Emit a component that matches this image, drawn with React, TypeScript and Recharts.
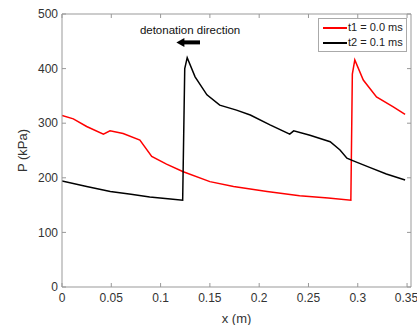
import { LineChart, Line, XAxis, YAxis, ReferenceLine, ReferenceDot } from "recharts";

// t1 = 0.0 ms (red)
const xT1 = [0, 0.0115, 0.025, 0.042, 0.0487, 0.062, 0.079, 0.091, 0.106, 0.123, 0.15, 0.174, 0.208, 0.241, 0.27, 0.293, 0.2945, 0.297, 0.3056, 0.319, 0.336, 0.348];
const pT1 = [314, 308, 294, 280, 286, 281, 269, 239, 225, 211, 193, 184, 175, 167, 163, 159, 390, 416, 379, 348, 330, 316];

// t2 = 0.1 ms (black)
const xT2 = [0, 0.025, 0.049, 0.07, 0.089, 0.11, 0.1224, 0.1245, 0.127, 0.135, 0.147, 0.16, 0.177, 0.191, 0.211, 0.231, 0.235, 0.2515, 0.272, 0.282, 0.289, 0.2955, 0.312, 0.329, 0.348];
const pT2 = [194, 184, 175, 170, 165, 161, 159, 400, 420, 385, 352, 333, 324, 315, 297, 280, 286, 278, 266, 251, 236, 231, 219, 207, 196];

const xTicks = [0, 0.05, 0.1, 0.15, 0.2, 0.25, 0.3, 0.35];
const yTicks = [0, 100, 200, 300, 400, 500];
const xMax = 0.354;
const yMax = 500;
const seriesNames = ["t1 = 0.0 ms", "t2 = 0.1 ms"];
const seriesColors = ["#ff0000", "#000000"];

const dataT1 = xT1.map((x, i) => ({ x, p: pT1[i] }));
const dataT2 = xT2.map((x, i) => ({ x, p: pT2[i] }));

const font = "Liberation Sans, Arial, sans-serif";
const frame = "#999999";

function LegendBox() {
    return (
        <div style={{ position: "absolute", top: 18, left: 318, border: "1px solid #aaa", background: "#fff", padding: "1px 3px 1px 4px", fontFamily: font, fontSize: 11, color: "#222", lineHeight: "15px" }}>
            {seriesNames.map((n, i) => (
                <div key={n} style={{ display: "flex", alignItems: "center", height: 15 }}>
                    <span style={{ display: "inline-block", width: 24, height: 2, background: seriesColors[i], marginRight: 1 }} />
                    <span>{n}</span>
                </div>
            ))}
        </div>
    );
}

function Arrow(props: any) {
    const { x1, y1, x2, y2 } = props;
    return (
        <g>
            <line x1={x1} y1={y1} x2={x2 + 7} y2={y2} stroke="#000" strokeWidth={4} />
            <polygon points={`${x2},${y2} ${x2 + 8},${y2 - 4.5} ${x2 + 8},${y2 + 4.5}`} fill="#000" />
        </g>
    );
}

// short inward tick on the top / right frame
function TopTick(props: any) {
    const { x1, y1 } = props;
    return <line x1={x1} y1={y1} x2={x1} y2={y1 + 4} stroke={frame} />;
}
function RightTick(props: any) {
    const { x1, y1 } = props;
    return <line x1={x1} y1={y1} x2={x1 - 4} y2={y1} stroke={frame} />;
}

export default function App() {
    return (
        <div style={{ position: "absolute", left: 0, top: 0, width: 417, height: 325, background: "#fff" }}>
            <LineChart width={417} height={325} margin={{ top: 14, right: 6, left: 0, bottom: 0 }}>
                <XAxis
                    xAxisId="b"
                    type="number"
                    dataKey="x"
                    domain={[0, xMax]}
                    ticks={xTicks}
                    allowDataOverflow
                    height={38}
                    stroke={frame}
                    tickSize={-4}
                    tickMargin={10}
                    tick={{ fill: "#333", fontSize: 12, fontFamily: font }}
                    label={{ value: "x (m)", position: "insideBottom", offset: 2, fill: "#333", fontSize: 13, fontFamily: font }}
                />
                <YAxis
                    yAxisId="l"
                    type="number"
                    domain={[0, yMax]}
                    ticks={yTicks}
                    width={62}
                    stroke={frame}
                    tickSize={-4}
                    tickMargin={8}
                    tick={{ fill: "#333", fontSize: 12, fontFamily: font }}
                    label={{ value: "P (kPa)", angle: -90, position: "insideLeft", offset: 22, fill: "#333", fontSize: 13, fontFamily: font, style: { textAnchor: "middle" } }}
                />
                <ReferenceLine xAxisId="b" yAxisId="l" y={yMax} stroke={frame} />
                <ReferenceLine xAxisId="b" yAxisId="l" x={xMax} stroke={frame} />
                {xTicks.map((t) => (
                    <ReferenceLine key={"tx" + t} xAxisId="b" yAxisId="l" segment={[{ x: t, y: yMax }, { x: t, y: yMax }]} shape={TopTick} />
                ))}
                {yTicks.map((t) => (
                    <ReferenceLine key={"ty" + t} xAxisId="b" yAxisId="l" segment={[{ x: xMax, y: t }, { x: xMax, y: t }]} shape={RightTick} />
                ))}
                <Line
                    xAxisId="b"
                    yAxisId="l"
                    data={dataT1}
                    dataKey="p"
                    name={seriesNames[0]}
                    stroke={seriesColors[0]}
                    strokeWidth={1.5}
                    dot={false}
                    type="linear"
                    isAnimationActive={false}
                />
                <Line
                    xAxisId="b"
                    yAxisId="l"
                    data={dataT2}
                    dataKey="p"
                    name={seriesNames[1]}
                    stroke={seriesColors[1]}
                    strokeWidth={1.5}
                    dot={false}
                    type="linear"
                    isAnimationActive={false}
                />
                <ReferenceLine
                    xAxisId="b"
                    yAxisId="l"
                    segment={[{ x: 0.14, y: 448 }, { x: 0.116, y: 448 }]}
                    shape={Arrow}
                />
                <ReferenceDot
                    xAxisId="b"
                    yAxisId="l"
                    x={0.079}
                    y={463}
                    r={0}
                    shape={(p: any) => (
                        <text x={p.cx} y={p.cy} fontSize={11.5} fontFamily={font} fill="#111">detonation direction</text>
                    )}
                />
            </LineChart>
            <LegendBox />
        </div>
    );
}
